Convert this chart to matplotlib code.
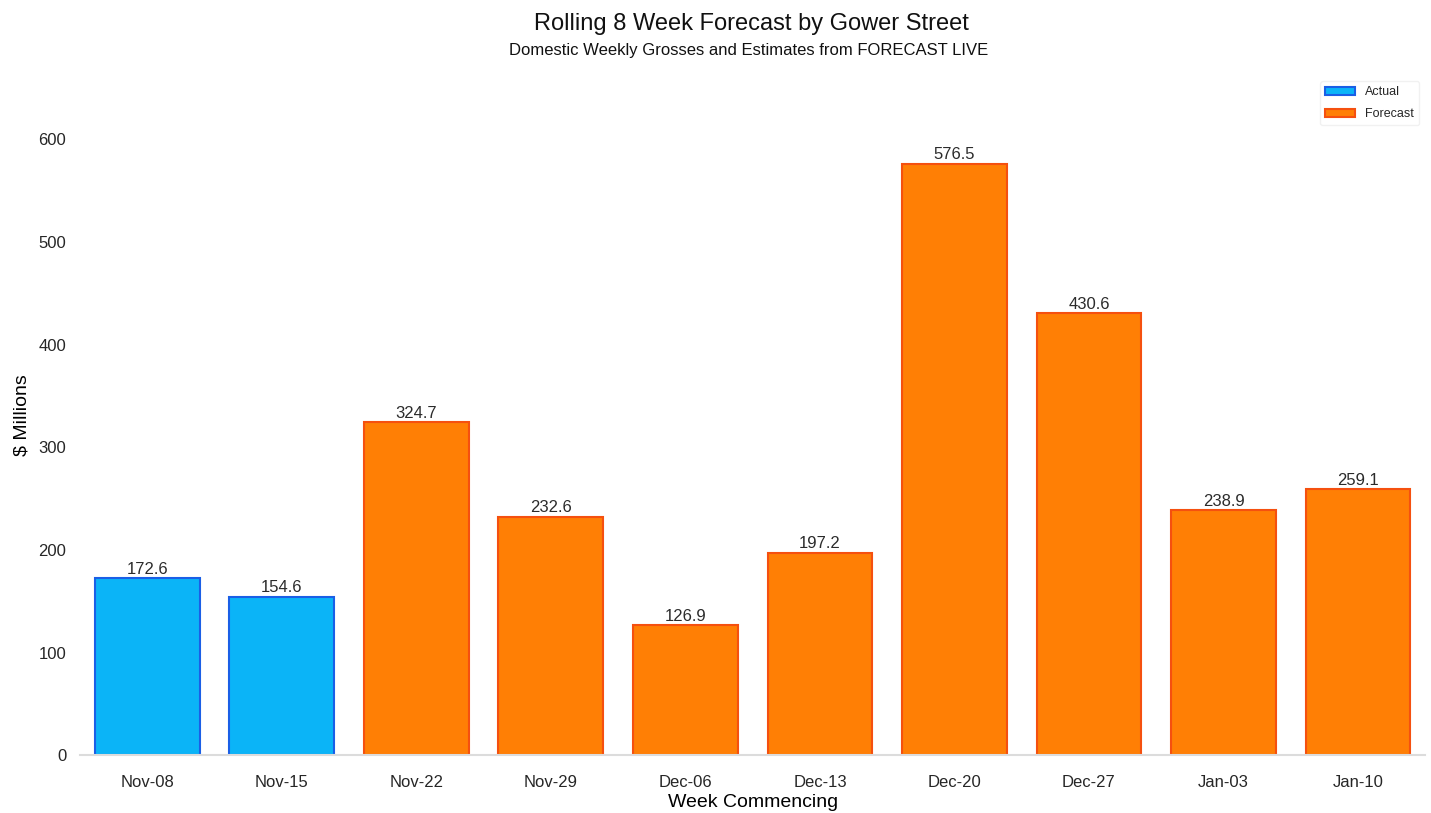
import matplotlib
matplotlib.use('Agg')
import matplotlib.pyplot as plt

plt.rcParams['font.family'] = ['Liberation Sans', 'DejaVu Sans']
plt.rcParams['text.color'] = '#262626'

weeks = ['Nov-08', 'Nov-15', 'Nov-22', 'Nov-29', 'Dec-06',
         'Dec-13', 'Dec-20', 'Dec-27', 'Jan-03', 'Jan-10']
grosses = [172.6, 154.6, 324.7, 232.6, 126.9, 197.2, 576.5, 430.6, 238.9, 259.1]
kinds = ['Actual', 'Actual', 'Forecast', 'Forecast', 'Forecast',
         'Forecast', 'Forecast', 'Forecast', 'Forecast', 'Forecast']

fill = {'Actual': '#0bb4f7', 'Forecast': '#ff7f05'}
edge = {'Actual': '#1a5fe6', 'Forecast': '#f5500f'}

fig = plt.figure(figsize=(14.31, 8.13), dpi=100)
ax = fig.add_axes([0.056, 0.071, 0.940, 0.837])

x = list(range(len(weeks)))
seen = set()
for i, (v, k) in enumerate(zip(grosses, kinds)):
    lab = k if k not in seen else None
    seen.add(k)
    bar = ax.bar(i, v, width=0.78, color=fill[k], edgecolor=edge[k],
                 linewidth=1.5, label=lab)
    ax.bar_label(bar, labels=[f'{v:.1f}'], padding=1, fontsize=12,
                 color='#2b2b2b')

ax.set_xlim(-0.5, len(weeks) - 0.5)
ax.set_ylim(0, 663)
ax.set_xticks(x)
ax.set_xticklabels(weeks)
ax.set_yticks(range(0, 700, 100))
ax.tick_params(axis='x', length=0, labelsize=12, colors='#262626', pad=14)
ax.tick_params(axis='y', length=0, labelsize=12, colors='#262626', pad=10)
for s in ['top', 'right', 'left']:
    ax.spines[s].set_visible(False)
ax.spines['bottom'].set_color('#dcdcdc')
ax.spines['bottom'].set_linewidth(1.5)

ax.set_xlabel('Week Commencing', fontsize=14, labelpad=3)
ax.set_ylabel('$ Millions', fontsize=14, labelpad=6)

fig.text(0.525, 0.971, 'Rolling 8 Week Forecast by Gower Street',
         ha='center', va='center', fontsize=17, color='#111111')
fig.text(0.523, 0.938, 'Domestic Weekly Grosses and Estimates from FORECAST LIVE',
         ha='center', va='center', fontsize=12, color='#111111')

leg = ax.legend(loc='upper right', fontsize=9, frameon=True,
                bbox_to_anchor=(1.0, 1.0), handlelength=2.4, handleheight=0.6,
                labelspacing=0.8)
leg.get_frame().set_edgecolor('#eeeeee')

fig.savefig('out.png', dpi=100)
